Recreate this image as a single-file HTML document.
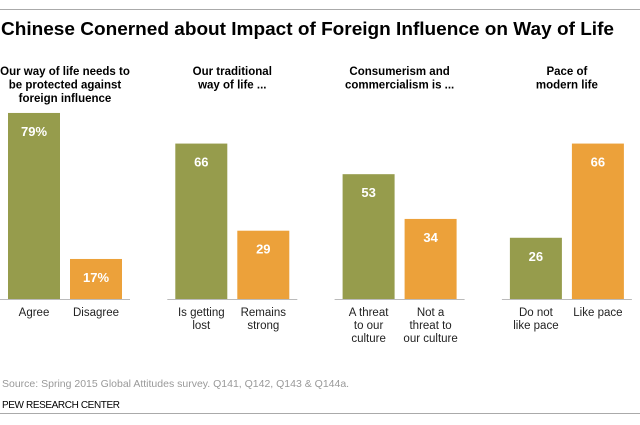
<!DOCTYPE html>
<html><head><meta charset="utf-8"><style>
body{margin:0;background:#fff;width:640px;height:420px;overflow:hidden;font-family:"Liberation Sans",Arial,sans-serif}
</style></head><body>
<svg width="640" height="420" id="svg" font-family="Liberation Sans, Arial, sans-serif">
<line x1="0" y1="9.5" x2="640" y2="9.5" stroke="#aaa"/>
<line x1="0" y1="413.5" x2="640" y2="413.5" stroke="#aaa"/>
<text x="1" y="35" font-size="18" font-weight="bold" fill="#000" textLength="613" lengthAdjust="spacingAndGlyphs">Chinese Conerned about Impact of Foreign Influence on Way of Life</text>
<text x="2" y="387" font-size="10.5" fill="#999">Source: Spring 2015 Global Attitudes survey. Q141, Q142, Q143 &amp; Q144a.</text>
<text x="2" y="408" font-size="10" fill="#000" textLength="118">PEW RESEARCH CENTER</text>
<g id="bars"></g>
</svg>
<script>
const groupTitles=[["Our way of life needs to","be protected against","foreign influence"],["Our traditional","way of life ..."],["Consumerism and","commercialism is ..."],["Pace of","modern life"]];
const categories=[[["Agree"],["Disagree"]],[["Is getting","lost"],["Remains","strong"]],[["A threat","to our","culture"],["Not a","threat to","our culture"]],[["Do not","like pace"],["Like pace"]]];
const greenValues=[79,66,53,26];
const orangeValues=[17,29,34,66];
const valueLabels=[["79%","17%"],["66","29"],["53","34"],["26","66"]];
const ns="http://www.w3.org/2000/svg",g=document.getElementById("bars");
const base=299,scale=2.355,bw=52;
const y=v=>base-v*scale;
const gx=i=>8+i*167.3;
function mk(t,a,p){const e=document.createElementNS(ns,t);for(const k in a)e.setAttribute(k,a[k]);(p||g).appendChild(e);return e;}
for(let i=0;i<4;i++){
 const x0=gx(i);
 const cx=x0+57;
 groupTitles[i].forEach((l,j)=>{const t=mk("text",{x:cx,y:75+j*13.5,"font-size":"11.5","font-weight":"bold","text-anchor":"middle",fill:"#000"});t.textContent=l;
 
 });
 const ax=mk("line",{x1:x0-8,x2:x0+122,y1:base+0.5,y2:base+0.5,stroke:"#bbb"});
 
 
 [greenValues[i],orangeValues[i]].forEach((v,k)=>{
  const bx=x0+k*62;
  const r=mk("rect",{x:bx,y:y(v),width:bw,height:base-y(v),fill:k?"#eca13a":"#969c4c"});
  
  
  const t=mk("text",{x:bx+bw/2,y:y(v)+23,"font-size":"13","font-weight":"bold","text-anchor":"middle",fill:"#fff"});
  t.textContent=valueLabels[i][k];
  
  
  categories[i][k].forEach((l,j)=>{const c=mk("text",{x:bx+bw/2,y:316+j*13,"font-size":"11.5","text-anchor":"middle",fill:"#222"});c.textContent=l;
  
  });
 });
}
</script>
</body></html>
